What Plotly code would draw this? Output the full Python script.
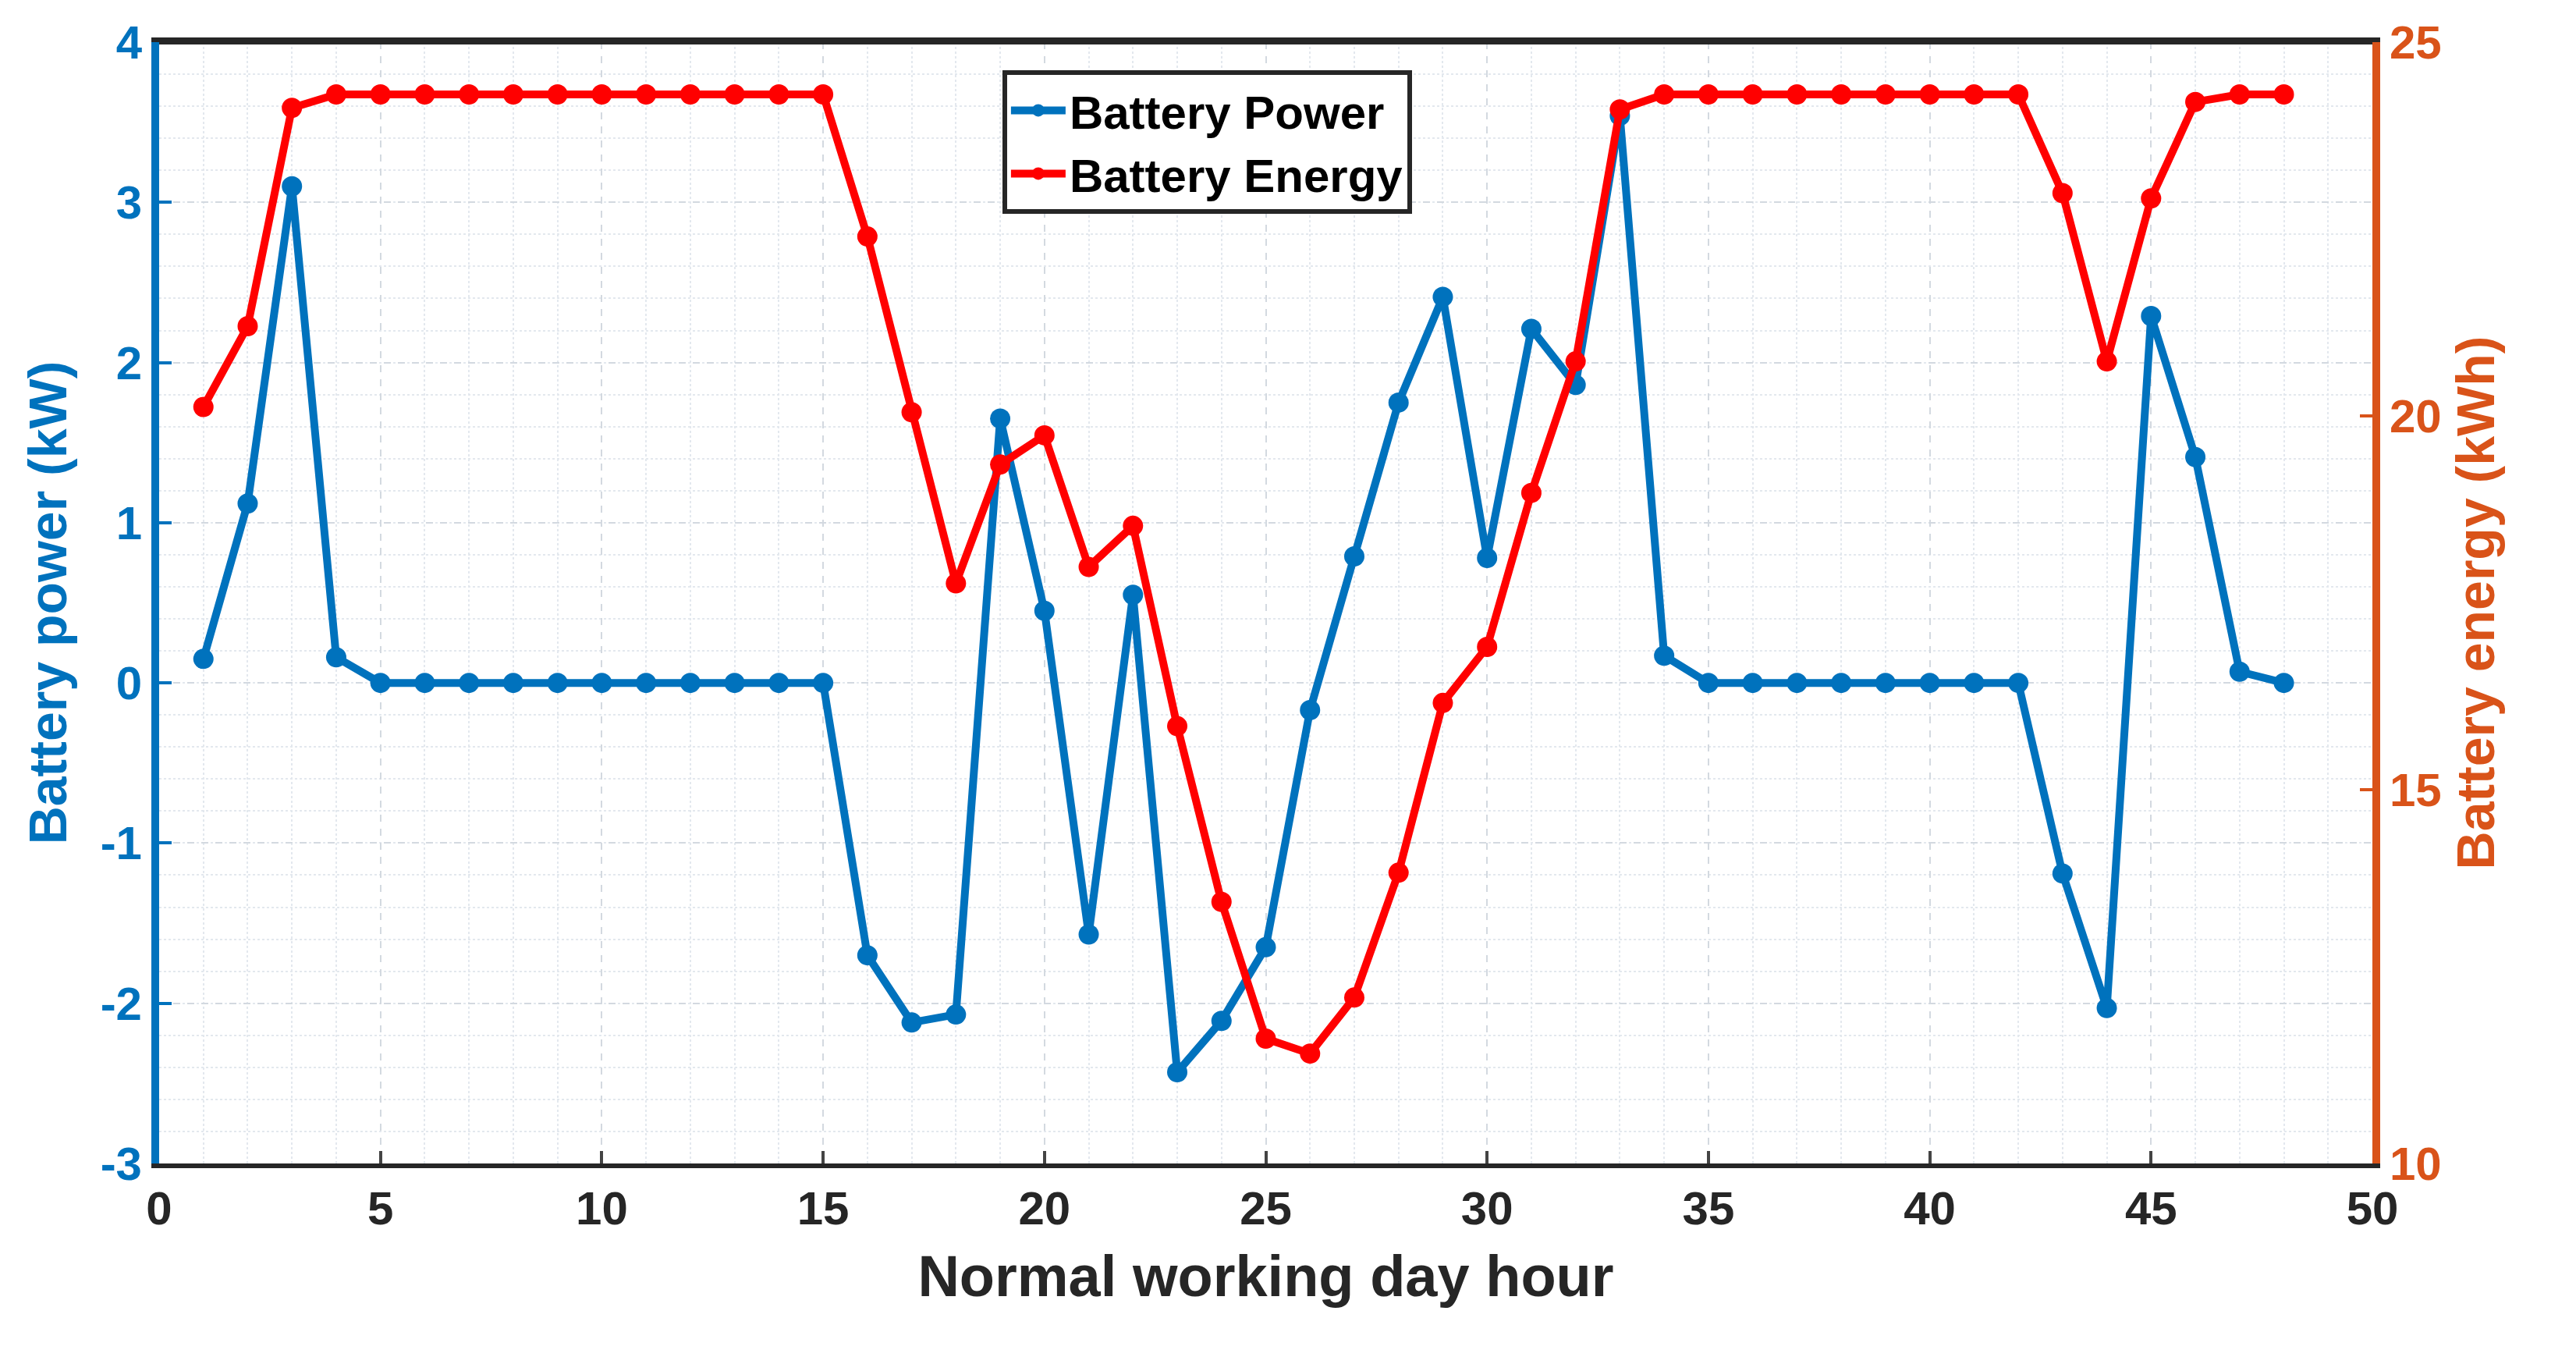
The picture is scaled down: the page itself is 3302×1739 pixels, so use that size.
import plotly.graph_objects as go

hours = list(range(1, 49))
power = [0.15, 1.12, 3.1, 0.16] + [0]*11 + [-1.7, -2.12, -2.07, 1.65, 0.45, -1.57, 0.55, -2.43, -2.11, -1.65,
         -0.17, 0.79, 1.75, 2.41, 0.78, 2.21, 1.86, 3.54, 0.17] + [0]*8 + [-1.19, -2.03, 2.29, 1.41, 0.07, 0]
energy = [20.12, 21.2, 24.12] + [24.3]*12 + [22.4, 20.05, 17.76, 19.35, 19.74, 17.98, 18.53, 15.85, 13.5, 11.67,
          11.47, 12.22, 13.89, 16.16, 16.91, 18.97, 20.73, 24.1] + [24.3]*9 + [22.98, 20.73, 22.91, 24.2, 24.3, 24.3]
power_ticks = [-3, -2, -1, 0, 1, 2, 3, 4]
power_tick_labels = ["<b>-3</b>", "<b>-2</b>", "<b>-1</b>", "<b>0</b>", "<b>1</b>", "<b>2</b>", "<b>3</b>", "<b>4</b>"]

BLUE = "#0072BD"; ORANGE = "#D95319"
F = "Liberation Sans"
fig = go.Figure()
fig.add_trace(go.Scatter(x=hours, y=power, name="<b>Battery Power</b>", mode="lines+markers",
                         line=dict(color=BLUE, width=10), marker=dict(size=26, color=BLUE)))
fig.add_trace(go.Scatter(x=hours, y=energy, name="<b>Battery Energy</b>", mode="lines+markers", yaxis="y2",
                         line=dict(color="#FF0000", width=10), marker=dict(size=26, color="#FF0000")))
grid = dict(showgrid=True, gridcolor="#d3d9e0", griddash="dash", gridwidth=2)
fig.update_layout(
    width=3302, height=1739, plot_bgcolor="white", paper_bgcolor="white",
    margin=dict(l=196, r=269, t=46, b=256),
    font=dict(family=F, size=60, color="#262626"),
    xaxis=dict(range=[0, 50], dtick=5, tickfont=dict(size=60), **grid,
               minor=dict(dtick=1, showgrid=True, gridcolor="#e3e8ee", griddash="dot", gridwidth=2),
               title=dict(text="<b>Normal working day hour</b>", font=dict(size=74, color="#262626"), standoff=30),
               showline=True, linecolor="#262626", linewidth=6, mirror=True, ticks="inside", ticklen=16,
               tickwidth=4, zeroline=False, tickprefix="<b>", ticksuffix="</b>"),
    yaxis=dict(range=[-3, 4], tickvals=power_ticks, ticktext=power_tick_labels,
               tickfont=dict(size=60, color=BLUE), **grid,
               minor=dict(dtick=0.2, showgrid=True, gridcolor="#e3e8ee", griddash="dot", gridwidth=2),
               title=dict(text="<b>Battery power (kW)</b>", font=dict(size=68, color=BLUE), standoff=25),
               showline=True, linecolor=BLUE, linewidth=10, ticks="inside", ticklen=16, tickwidth=4,
               tickcolor=BLUE, zeroline=False),
    yaxis2=dict(range=[10, 25], dtick=5, overlaying="y", side="right", showgrid=False,
                tickfont=dict(size=60, color=ORANGE),
                title=dict(text="<b>Battery energy (kWh)</b>", font=dict(size=68, color=ORANGE), standoff=25),
                showline=True, linecolor=ORANGE, linewidth=10, ticks="inside", ticklen=16, tickwidth=4,
                tickcolor=ORANGE, zeroline=False, tickprefix="<b>", ticksuffix="</b>"),
    legend=dict(x=0.381, y=0.975, xanchor="left", yanchor="top", bgcolor="white",
                bordercolor="#262626", borderwidth=6, font=dict(size=60, color="black"), itemwidth=70),
    showlegend=True,
)
fig.add_shape(type="line", xref="paper", yref="paper", x0=0, x1=1, y0=1, y1=1,
              line=dict(color="#262626", width=6))
fig.write_html("out.html")
